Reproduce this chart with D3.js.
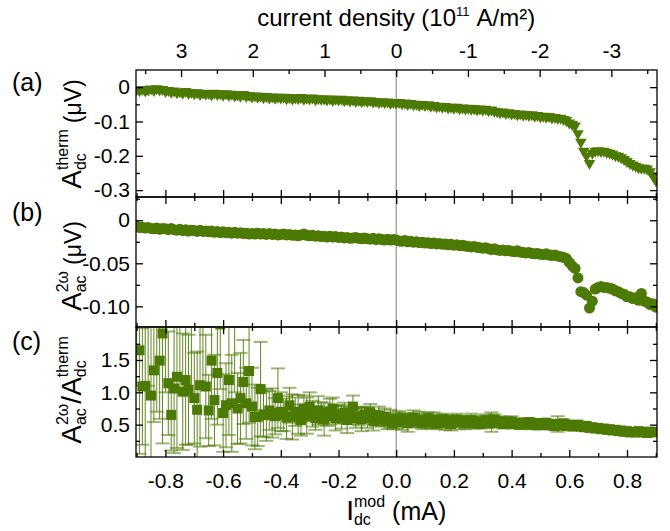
<!DOCTYPE html>
<html>
<head>
<meta charset="utf-8">
<script src="https://cdn.jsdelivr.net/npm/d3@7"></script>
<style>
	body { margin: 0; background: #fff; }
	svg { display: block; font-family: "Liberation Sans", Arial, sans-serif; }
</style>
</head>
<body>
<div id="chart"></div>
<script>
// ---------- DATA ----------
// modulation dc current sweep (mA), one point every 0.01 mA
const currentMA = d3.range(181).map((i) => Math.round((-0.9 + i * 0.01) * 100) / 100);

// (a) A_dc^therm (µV)
const thermA = [
	-0.007, -0.010, -0.006, -0.011, -0.008, -0.005, -0.009, -0.004, -0.008, -0.006,
	-0.012, -0.009, -0.014, -0.011, -0.016, -0.013, -0.017, -0.012, -0.018, -0.015,
	-0.019, -0.016, -0.021, -0.017, -0.020, -0.018, -0.022, -0.017, -0.021, -0.019,
	-0.023, -0.019, -0.024, -0.020, -0.025, -0.022, -0.026, -0.021, -0.027, -0.024,
	-0.028, -0.025, -0.029, -0.026, -0.030, -0.027, -0.031, -0.028, -0.032, -0.029,
	-0.031, -0.029, -0.033, -0.030, -0.034, -0.031, -0.033, -0.030, -0.035, -0.032,
	-0.034, -0.031, -0.036, -0.033, -0.035, -0.034, -0.037, -0.034, -0.038, -0.035,
	-0.037, -0.035, -0.039, -0.036, -0.040, -0.037, -0.041, -0.038, -0.042, -0.039,
	-0.041, -0.039, -0.043, -0.041, -0.044, -0.042, -0.045, -0.043, -0.047, -0.044,
	-0.046, -0.044, -0.048, -0.046, -0.050, -0.047, -0.051, -0.049, -0.053, -0.050,
	-0.053, -0.051, -0.055, -0.053, -0.057, -0.055, -0.058, -0.056, -0.060, -0.058,
	-0.061, -0.058, -0.062, -0.060, -0.063, -0.061, -0.064, -0.062, -0.066, -0.063,
	-0.066, -0.064, -0.068, -0.066, -0.070, -0.071, -0.074, -0.072, -0.076, -0.074,
	-0.078, -0.076, -0.080, -0.078, -0.081, -0.079, -0.082, -0.080, -0.084, -0.082,
	-0.086, -0.084, -0.087, -0.085, -0.089, -0.088, -0.091, -0.090, -0.094, -0.097,
	-0.104, -0.108, -0.113, -0.135, -0.160, -0.186, -0.200, -0.222, -0.192, -0.186,
	-0.185, -0.187, -0.186, -0.190, -0.192, -0.195, -0.199, -0.201, -0.205, -0.210,
	-0.216, -0.222, -0.226, -0.230, -0.234, -0.236, -0.236, -0.238, -0.246, -0.258,
	-0.272,
];

// (b) A_ac^2w (µV)
const ac2w = [
	-0.0070, -0.0085, -0.0080, -0.0090, -0.0085, -0.0095, -0.0100, -0.0090, -0.0105, -0.0095,
	-0.0100, -0.0110, -0.0095, -0.0110, -0.0115, -0.0105, -0.0120, -0.0110, -0.0125, -0.0115,
	-0.0120, -0.0130, -0.0115, -0.0130, -0.0125, -0.0135, -0.0125, -0.0140, -0.0130, -0.0145,
	-0.0135, -0.0145, -0.0140, -0.0150, -0.0140, -0.0150, -0.0145, -0.0155, -0.0150, -0.0160,
	-0.0155, -0.0160, -0.0150, -0.0160, -0.0155, -0.0165, -0.0155, -0.0165, -0.0160, -0.0170,
	-0.0165, -0.0160, -0.0170, -0.0165, -0.0175, -0.0170, -0.0180, -0.0170, -0.0160, -0.0175,
	-0.0180, -0.0175, -0.0185, -0.0180, -0.0190, -0.0185, -0.0195, -0.0185, -0.0195, -0.0190,
	-0.0200, -0.0195, -0.0205, -0.0200, -0.0210, -0.0205, -0.0200, -0.0210, -0.0215, -0.0205,
	-0.0215, -0.0220, -0.0210, -0.0225, -0.0215, -0.0225, -0.0230, -0.0220, -0.0230, -0.0225,
	-0.0230, -0.0240, -0.0245, -0.0235, -0.0250, -0.0245, -0.0255, -0.0250, -0.0260, -0.0255,
	-0.0265, -0.0260, -0.0270, -0.0265, -0.0275, -0.0270, -0.0280, -0.0275, -0.0285, -0.0280,
	-0.0290, -0.0285, -0.0295, -0.0290, -0.0300, -0.0305, -0.0310, -0.0305, -0.0315, -0.0320,
	-0.0325, -0.0320, -0.0330, -0.0340, -0.0330, -0.0345, -0.0350, -0.0345, -0.0355, -0.0350,
	-0.0360, -0.0365, -0.0355, -0.0370, -0.0375, -0.0380, -0.0375, -0.0385, -0.0390, -0.0385,
	-0.0395, -0.0400, -0.0390, -0.0405, -0.0410, -0.0405, -0.0415, -0.0425, -0.0430, -0.0445,
	-0.0490, -0.0530, -0.0560, -0.0670, -0.0830, -0.0840, -0.0870, -0.1020, -0.0940, -0.0800,
	-0.0780, -0.0770, -0.0780, -0.0780, -0.0790, -0.0800, -0.0820, -0.0830, -0.0850, -0.0860,
	-0.0890, -0.0890, -0.0910, -0.0900, -0.0930, -0.0850, -0.0940, -0.0950, -0.0980, -0.0970,
	-0.1010,
];

// (c) ratio A_ac^2w / A_dc^therm and its error
const ratio = [
	2.30, 1.65, 1.09, 1.10, 2.40, 0.95, 1.34, 2.10, 1.49, 1.91,
	2.20, 1.14, 0.65, 1.06, 1.24, 2.30, 1.01, 1.19, 1.04, 2.15,
	0.91, 0.73, 1.11, 2.20, 1.09, 0.72, 1.49, 0.88, 1.30, 2.05,
	0.68, 0.80, 1.19, 0.83, 2.10, 0.75, 0.91, 1.16, 0.83, 1.33,
	0.78, 0.62, 0.62, 1.05, 0.66, 0.65, 0.72, 0.68, 0.63, 0.91,
	0.70, 0.65, 0.61, 0.80, 0.62, 0.70, 0.66, 0.57, 0.75, 0.64,
	0.78, 0.67, 0.60, 0.72, 0.69, 0.58, 0.63, 0.70, 0.75, 0.60,
	0.66, 0.62, 0.68, 0.57, 0.64, 0.78, 0.60, 0.63, 0.58, 0.66,
	0.61, 0.69, 0.56, 0.60, 0.64, 0.58, 0.62, 0.55, 0.59, 0.53,
	0.57, 0.60, 0.54, 0.58, 0.52, 0.57, 0.61, 0.55, 0.58, 0.53,
	0.56, 0.60, 0.54, 0.57, 0.52, 0.55, 0.59, 0.53, 0.56, 0.51,
	0.55, 0.58, 0.53, 0.56, 0.52, 0.55, 0.57, 0.52, 0.55, 0.51,
	0.54, 0.57, 0.52, 0.54, 0.58, 0.53, 0.55, 0.51, 0.54, 0.52,
	0.55, 0.51, 0.53, 0.50, 0.53, 0.51, 0.54, 0.50, 0.52, 0.49,
	0.52, 0.50, 0.53, 0.49, 0.51, 0.48, 0.51, 0.49, 0.52, 0.48,
	0.50, 0.47, 0.49, 0.50, 0.47, 0.46, 0.48, 0.45, 0.46, 0.44,
	0.45, 0.43, 0.44, 0.42, 0.43, 0.41, 0.42, 0.40, 0.41, 0.39,
	0.40, 0.38, 0.39, 0.38, 0.40, 0.38, 0.39, 0.37, 0.39, 0.38,
	0.39,
];
const ratioErr = [
	1.2, 1.6, 0.9, 1.5, 1.3, 1.1, 0.8, 1.4, 0.9, 1.7,
	1.2, 0.8, 0.55, 1.0, 1.1, 1.3, 0.9, 1.0, 0.85, 1.2,
	0.7, 0.9, 0.95, 1.1, 0.8, 0.55, 0.9, 0.7, 0.8, 1.0,
	0.6, 0.65, 0.85, 0.75, 1.1, 0.55, 0.7, 0.65, 0.55, 0.8,
	0.6, 0.5, 0.45, 0.73, 0.35, 0.4, 0.3, 0.38, 0.28, 0.46,
	0.3, 0.25, 0.33, 0.27, 0.35, 0.22, 0.3, 0.24, 0.2, 0.28,
	0.22, 0.2, 0.18, 0.22, 0.16, 0.25, 0.15, 0.2, 0.17, 0.19,
	0.14, 0.18, 0.16, 0.2, 0.13, 0.17, 0.15, 0.14, 0.18, 0.12,
	0.16, 0.13, 0.15, 0.12, 0.14, 0.11, 0.13, 0.12, 0.14, 0.1,
	0.12, 0.11, 0.12, 0.1, 0.13, 0.1, 0.11, 0.09, 0.12, 0.1,
	0.11, 0.09, 0.1, 0.12, 0.09, 0.1, 0.08, 0.11, 0.09, 0.1,
	0.08, 0.09, 0.1, 0.08, 0.09, 0.08, 0.1, 0.08, 0.09, 0.07,
	0.08, 0.09, 0.07, 0.15, 0.08, 0.07, 0.08, 0.07, 0.08, 0.07,
	0.08, 0.07, 0.06, 0.07, 0.06, 0.07, 0.06, 0.07, 0.06, 0.06,
	0.07, 0.06, 0.05, 0.06, 0.05, 0.06, 0.12, 0.05, 0.06, 0.05,
	0.05, 0.05, 0.04, 0.05, 0.04, 0.05, 0.04, 0.04, 0.05, 0.04,
	0.04, 0.04, 0.04, 0.04, 0.04, 0.03, 0.04, 0.03, 0.04, 0.03,
	0.03, 0.03, 0.04, 0.03, 0.03, 0.03, 0.03, 0.03, 0.03, 0.03,
	0.03,
];

// ticks
const xTicks = [-0.8, -0.6, -0.4, -0.2, 0, 0.2, 0.4, 0.6, 0.8];
const xTickLabels = ["-0.8", "-0.6", "-0.4", "-0.2", "0.0", "0.2", "0.4", "0.6", "0.8"];
const xMinor = [-0.9, -0.7, -0.5, -0.3, -0.1, 0.1, 0.3, 0.5, 0.7, 0.9];
const densityTicks = [3, 2, 1, 0, -1, -2, -3];
const densityLabels = ["3", "2", "1", "0", "-1", "-2", "-3"];
const densityMinor = [3.5, 2.5, 1.5, 0.5, -0.5, -1.5, -2.5, -3.5];
const aTicks = [0, -0.1, -0.2, -0.3];
const aTickLabels = ["0", "-0.1", "-0.2", "-0.3"];
const aMinor = [-0.05, -0.15, -0.25];
const bTicks = [0, -0.05, -0.1];
const bTickLabels = ["0", "-0.05", "-0.10"];
const bMinor = [0.025, -0.025, -0.075];
const cTicks = [0.5, 1.0, 1.5];
const cTickLabels = ["0.5", "1.0", "1.5"];
const cMinor = [0.25, 0.75, 1.25, 1.75];

// ---------- LAYOUT ----------
const size = { w: 670, h: 531 };
const plot = { left: 136, right: 657 };
const green = "#4c7a04";
const tickFont = 21;
const mAPerDensity = 0.2486; // 1e11 A/m² corresponds to this many mA

const svg = d3
	.select("#chart")
	.append("svg")
	.attr("width", size.w)
	.attr("height", size.h);

const x = d3.scaleLinear().domain([-0.902, 0.904]).range([plot.left, plot.right]);
const xTop = d3
	.scaleLinear()
	.domain(x.domain().map((v) => -v / mAPerDensity))
	.range([plot.left, plot.right]);

const panels = [
	{
		id: "a",
		y: d3.scaleLinear().domain([-0.32, 0.05]).range([197, 70]),
		ticks: aTicks,
		labels: aTickLabels,
		minor: aMinor,
		values: thermA,
		shape: "triangle",
	},
	{
		id: "b",
		y: d3.scaleLinear().domain([-0.124, 0.027]).range([327, 197]),
		ticks: bTicks,
		labels: bTickLabels,
		minor: bMinor,
		values: ac2w,
		shape: "circle",
	},
	{
		id: "c",
		y: d3.scaleLinear().domain([0, 2.01]).range([457, 327]),
		ticks: cTicks,
		labels: cTickLabels,
		minor: cMinor,
		values: ratio,
		errors: ratioErr,
		shape: "square",
	},
];

// zero line across all panels
svg
	.append("line")
	.attr("x1", x(0))
	.attr("x2", x(0))
	.attr("y1", 70)
	.attr("y2", 457)
	.attr("stroke", "#9a9a9a")
	.attr("stroke-width", 1.3);

function styleAxis(g) {
	g.select(".domain").remove();
	g.selectAll("line").attr("stroke", "#000").attr("stroke-width", 1.3);
	g.attr("font-family", null).attr("font-size", tickFont);
	g.selectAll("text").attr("fill", "#000");
}

panels.forEach((p, idx) => {
	const top = p.y.range()[1];
	const bottom = p.y.range()[0];
	const group = svg.append("g").classed(`panel__${p.id}`, true);

	group
		.append("clipPath")
		.attr("id", `clip__${p.id}`)
		.append("rect")
		.attr("x", plot.left)
		.attr("y", top)
		.attr("width", plot.right - plot.left)
		.attr("height", bottom - top);

	const marks = group.append("g").attr("clip-path", `url(#clip__${p.id})`);
	const data = currentMA.map((c, i) => ({ x: c, v: p.values[i], e: p.errors ? p.errors[i] : 0 }));

	if (p.errors) {
		const bars = marks.append("g");
		bars
			.selectAll("line.bar")
			.data(data)
			.join("line")
			.attr("class", "bar")
			.attr("x1", (d) => x(d.x))
			.attr("x2", (d) => x(d.x))
			.attr("y1", (d) => p.y(d.v - d.e))
			.attr("y2", (d) => p.y(d.v + d.e))
			.attr("stroke", green)
			.attr("stroke-opacity", 0.9)
			.attr("stroke-width", 1);
		[-1, 1].forEach((s) => {
			bars
				.selectAll(`line.cap${s}`)
				.data(data)
				.join("line")
				.attr("class", `cap${s}`)
				.attr("x1", (d) => x(d.x) - 7)
				.attr("x2", (d) => x(d.x) + 7)
				.attr("y1", (d) => p.y(d.v + s * d.e))
				.attr("y2", (d) => p.y(d.v + s * d.e))
				.attr("stroke", green)
				.attr("stroke-opacity", 0.55)
				.attr("stroke-width", 2);
		});
	}

	if (p.shape === "triangle") {
		const tri = d3.symbol(d3.symbolTriangle, 58)();
		marks
			.selectAll("path")
			.data(data)
			.join("path")
			.attr("d", tri)
			.attr("transform", (d) => `translate(${x(d.x)},${p.y(d.v)}) rotate(180)`)
			.attr("fill", green);
	} else if (p.shape === "circle") {
		marks
			.selectAll("circle")
			.data(data)
			.join("circle")
			.attr("cx", (d) => x(d.x))
			.attr("cy", (d) => p.y(d.v))
			.attr("r", 5.5)
			.attr("fill", green);
	} else {
		const s = 10;
		marks
			.selectAll("rect")
			.data(data)
			.join("rect")
			.attr("x", (d) => x(d.x) - s / 2)
			.attr("y", (d) => p.y(d.v) - s / 2)
			.attr("width", s)
			.attr("height", s)
			.attr("fill", green);
	}

	// left axis with labels, right axis mirrored
	group
		.append("g")
		.attr("transform", `translate(${plot.left},0)`)
		.call(d3.axisLeft(p.y).tickValues(p.ticks).tickSize(-7).tickPadding(6).tickFormat((d, i) => p.labels[i]))
		.call(styleAxis);
	group
		.append("g")
		.attr("transform", `translate(${plot.left},0)`)
		.call(d3.axisLeft(p.y).tickValues(p.minor).tickSize(-4).tickFormat(""))
		.call(styleAxis);
	[p.ticks, p.minor].forEach((vals, k) => {
		group
			.append("g")
			.attr("transform", `translate(${plot.right},0)`)
			.call(d3.axisRight(p.y).tickValues(vals).tickSize(k ? -4 : -7).tickFormat(""))
			.call(styleAxis);
	});

	// bottom edge (labels only on the last panel)
	const isLast = idx === panels.length - 1;
	group
		.append("g")
		.attr("transform", `translate(0,${bottom})`)
		.call(
			d3.axisBottom(x).tickValues(xTicks).tickSize(-7).tickPadding(16)
				.tickFormat((d, i) => (isLast ? xTickLabels[i] : ""))
		)
		.call(styleAxis);
	group
		.append("g")
		.attr("transform", `translate(0,${bottom})`)
		.call(d3.axisBottom(x).tickValues(xMinor).tickSize(-4).tickFormat(""))
		.call(styleAxis);

	// top edge: current density on the first panel, mA ticks otherwise
	if (idx === 0) {
		group
			.append("g")
			.attr("transform", `translate(0,${top})`)
			.call(d3.axisTop(xTop).tickValues(densityTicks).tickSize(-7).tickPadding(12).tickFormat((d, i) => densityLabels[i]))
			.call(styleAxis);
		group
			.append("g")
			.attr("transform", `translate(0,${top})`)
			.call(d3.axisTop(xTop).tickValues(densityMinor).tickSize(-4).tickFormat(""))
			.call(styleAxis);
	} else {
		group
			.append("g")
			.attr("transform", `translate(0,${top})`)
			.call(d3.axisTop(x).tickValues(xTicks).tickSize(-7).tickFormat(""))
			.call(styleAxis);
		group
			.append("g")
			.attr("transform", `translate(0,${top})`)
			.call(d3.axisTop(x).tickValues(xMinor).tickSize(-4).tickFormat(""))
			.call(styleAxis);
	}

	group
		.append("rect")
		.attr("x", plot.left)
		.attr("y", top)
		.attr("width", plot.right - plot.left)
		.attr("height", bottom - top)
		.attr("fill", "none")
		.attr("stroke", "#000")
		.attr("stroke-width", 1.3);
});

// ---------- TEXT ----------
// rich label: base text + stacked superscript/subscript pairs, centred on (cx, cy)
function richLabel(cx, cy, angle, parts) {
	const g = svg.append("g").attr("transform", `translate(${cx},${cy}) rotate(${angle})`);
	let pos = 0;
	parts.forEach((p) => {
		if (p.gap) {
			pos += p.gap;
			return;
		}
		if (p.text) {
			const t = g.append("text").attr("x", pos).attr("font-size", p.size).text(p.text);
			pos += t.node().getComputedTextLength();
			return;
		}
		let w = 0;
		if (p.sup) {
			const t = g.append("text").attr("x", pos).attr("y", p.supY).attr("font-size", p.size).text(p.sup);
			w = Math.max(w, t.node().getComputedTextLength());
		}
		if (p.sub) {
			const t = g.append("text").attr("x", pos).attr("y", p.subY).attr("font-size", p.size).text(p.sub);
			w = Math.max(w, t.node().getComputedTextLength());
		}
		pos += w;
	});
	g.selectAll("text").attr("x", function () {
		return +this.getAttribute("x") - pos / 2;
	});
	return g;
}

const letter = 28;
const big = 23;
const small = 16;
richLabel(81, 134, -90, [
	{ text: "A", size: letter },
	{ sup: "therm", sub: "dc", size: small, supY: -13, subY: 5 },
	{ gap: 6 },
	{ text: "(μV)", size: big },
]);
richLabel(81, 266, -90, [
	{ text: "A", size: letter },
	{ sup: "2ω", sub: "ac", size: small, supY: -13, subY: 5 },
	{ gap: 6 },
	{ text: "(μV)", size: big },
]);
richLabel(81, 390, -90, [
	{ text: "A", size: letter },
	{ sup: "2ω", sub: "ac", size: small, supY: -13, subY: 5 },
	{ text: "/A", size: letter },
	{ sup: "therm", sub: "dc", size: small, supY: -13, subY: 5 },
]);
richLabel(x(0), 520, 0, [
	{ text: "I", size: letter },
	{ sup: "mod", sub: "dc", size: small, supY: -13, subY: 5 },
	{ gap: 7 },
	{ text: "(mA)", size: 25 },
]);
richLabel(x(0), 26, 0, [
	{ text: "current density (10", size: 24 },
	{ sup: "11", size: 13, supY: -10 },
	{ gap: 7 },
	{ text: "A/m²)", size: 24 },
]);

const panelLetters = ["(a)", "(b)", "(c)"];
const letterY = [91, 221, 350];
panelLetters.forEach((t, i) => {
	svg.append("text").attr("x", 12).attr("y", letterY[i]).attr("font-size", 25).text(t);
});
</script>
</body>
</html>
